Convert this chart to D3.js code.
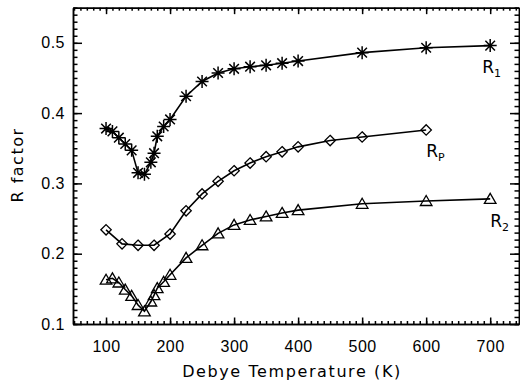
<!DOCTYPE html>
<html>
<head>
<meta charset="utf-8">
<script src="https://cdn.jsdelivr.net/npm/d3@7"></script>
<style>
  body { margin: 0; background: #fff; }
  svg { display: block; font-family: "DejaVu Sans", sans-serif; }
  .axis path, .axis line { stroke: #000; stroke-width: 1.5; }
  .axis text { font-size: 16px; fill: #000; letter-spacing: 0.5px; }
</style>
</head>
<body>
<div id="chart"></div>
<script>
// Debye temperature (K)
var tempR1 = [100, 110, 120, 130, 140, 150, 160, 170, 175, 180, 190, 200, 225, 250, 275, 300, 325, 350, 375, 400, 500, 600, 700];
var valR1 = [0.378, 0.374, 0.365, 0.356, 0.347, 0.315, 0.313, 0.330, 0.343, 0.367, 0.381, 0.391, 0.424, 0.445, 0.457, 0.463, 0.466, 0.468, 0.471, 0.474, 0.486, 0.493, 0.496];

var tempRp = [100, 125, 150, 175, 200, 225, 250, 275, 300, 325, 350, 375, 400, 450, 500, 600];
var valRp = [0.234, 0.214, 0.212, 0.212, 0.228, 0.261, 0.285, 0.303, 0.318, 0.329, 0.338, 0.345, 0.352, 0.361, 0.366, 0.376];

var tempR2 = [100, 110, 120, 130, 140, 150, 160, 170, 175, 180, 190, 200, 225, 250, 275, 300, 325, 350, 375, 400, 500, 600, 700];
var valR2 = [0.163, 0.165, 0.159, 0.149, 0.140, 0.127, 0.118, 0.132, 0.141, 0.151, 0.160, 0.170, 0.194, 0.212, 0.229, 0.241, 0.248, 0.253, 0.258, 0.262, 0.271, 0.275, 0.278];

var xTicks = [100, 200, 300, 400, 500, 600, 700];
var yTicks = [0.1, 0.2, 0.3, 0.4, 0.5];

var width = 520, height = 386;
var svg = d3.select('#chart').append('svg')
    .attr('width', width)
    .attr('height', height);

var x = d3.scaleLinear().domain([48.4, 745]).range([73, 519]);
var y = d3.scaleLinear().domain([0.1, 0.55]).range([324, 7.65]);

var xMinor = d3.range(50, 746, 10);
var yMinor = d3.range(0.1, 0.551, 0.01);

// minor ticks
svg.append('g').attr('class', 'axis').attr('transform', 'translate(0,324)')
    .call(d3.axisBottom(x).tickValues(xMinor).tickSize(-3).tickSizeOuter(0).tickFormat(''));
svg.append('g').attr('class', 'axis').attr('transform', 'translate(0,7.65)')
    .call(d3.axisTop(x).tickValues(xMinor).tickSize(-3).tickSizeOuter(0).tickFormat(''));
svg.append('g').attr('class', 'axis').attr('transform', 'translate(73,0)')
    .call(d3.axisLeft(y).tickValues(yMinor).tickSize(-4.5).tickSizeOuter(0).tickFormat(''));
svg.append('g').attr('class', 'axis').attr('transform', 'translate(519,0)')
    .call(d3.axisRight(y).tickValues(yMinor).tickSize(-4.5).tickSizeOuter(0).tickFormat(''));

// major ticks
svg.append('g').attr('class', 'axis').attr('transform', 'translate(0,324)')
    .call(d3.axisBottom(x).tickValues(xTicks).tickSize(-6.5).tickSizeOuter(0).tickPadding(17));
svg.append('g').attr('class', 'axis').attr('transform', 'translate(0,7.65)')
    .call(d3.axisTop(x).tickValues(xTicks).tickSize(-6.5).tickSizeOuter(0).tickFormat(''));
svg.append('g').attr('class', 'axis').attr('transform', 'translate(73,0)')
    .call(d3.axisLeft(y).tickValues(yTicks).tickSize(-9).tickSizeOuter(0).tickPadding(8).tickFormat(d3.format('.1f')));
svg.append('g').attr('class', 'axis').attr('transform', 'translate(519,0)')
    .call(d3.axisRight(y).tickValues(yTicks).tickSize(-9).tickSizeOuter(0).tickFormat(''));

svg.append('text')
    .attr('x', 292).attr('y', 377)
    .attr('text-anchor', 'middle')
    .style('font-size', '16px')
    .style('letter-spacing', '1.6px')
    .text('Debye Temperature (K)');

svg.append('text')
    .attr('transform', 'translate(23,165)rotate(-90)')
    .attr('text-anchor', 'middle')
    .style('font-size', '16px')
    .style('letter-spacing', '1.5px')
    .text('R factor');

var line = d3.line().x(d => x(d[0])).y(d => y(d[1]));

function series(temps, vals, marker) {
    var pts = temps.map((t, i) => [t, vals[i]]);
    svg.append('path')
        .datum(pts)
        .attr('d', line)
        .attr('fill', 'none')
        .attr('stroke', '#000')
        .attr('stroke-width', 1.6);
    var g = svg.append('g');
    pts.forEach(p => {
        var cx = x(p[0]), cy = y(p[1]);
        var m = g.append('path')
            .attr('fill', 'none')
            .attr('stroke', '#000')
            .attr('stroke-width', 1.3);
        if (marker === 'star') {
            var r = 6.5, s = 4.8;
            m.attr('stroke-width', 1.5)
             .attr('d', `M${cx},${cy - r}V${cy + r}M${cx - r},${cy}H${cx + r}` +
                `M${cx - s},${cy - s}L${cx + s},${cy + s}M${cx - s},${cy + s}L${cx + s},${cy - s}`);
        } else if (marker === 'diamond') {
            var r = 5.2;
            m.attr('d', `M${cx},${cy - r}L${cx + r},${cy}L${cx},${cy + r}L${cx - r},${cy}Z`);
        } else {
            m.attr('d', `M${cx},${cy - 5.5}L${cx + 5.8},${cy + 4.5}L${cx - 5.8},${cy + 4.5}Z`);
        }
    });
}

series(tempR1, valR1, 'star');
series(tempRp, valRp, 'diamond');
series(tempR2, valR2, 'triangle');

function label(t, v, dx, dy, sub) {
    var txt = svg.append('text')
        .attr('x', x(t) + dx).attr('y', y(v) + dy)
        .style('font-size', '17px');
    txt.append('tspan').text('R');
    txt.append('tspan').attr('dy', 4).style('font-size', '11px').text(sub);
}

label(700, 0.496, -8, 27, '1');
label(600, 0.376, 0, 27, 'P');
label(700, 0.278, 0, 28, '2');
</script>
</body>
</html>
